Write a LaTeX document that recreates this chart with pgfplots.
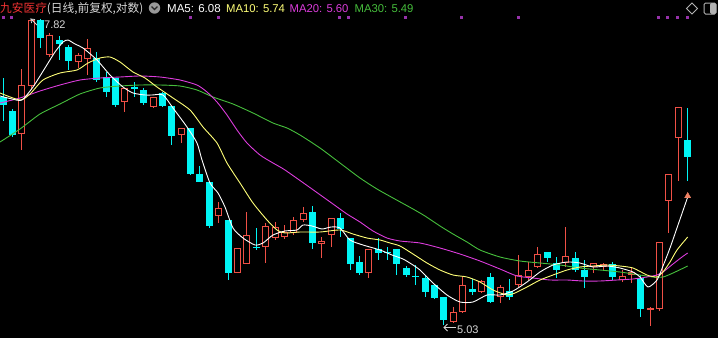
\documentclass[border=0pt]{standalone}
\usepackage{pgfplots}
\pgfplotsset{compat=1.18}
\usepackage{pgfplotstable}
\usepackage{fontspec}
\setmainfont{Liberation Sans}
\newfontfamily\cjk{Noto Sans CJK SC}
\definecolor{upred}{RGB}{240,80,70}
\definecolor{txtred}{RGB}{240,50,50}
\definecolor{dncyan}{RGB}{0,245,245}
\definecolor{mafive}{RGB}{255,255,255}
\definecolor{maten}{RGB}{255,255,120}
\definecolor{matwenty}{RGB}{220,60,220}
\definecolor{mathirty}{RGB}{70,190,60}
\definecolor{hdrgray}{RGB}{215,215,215}
\definecolor{dotpurple}{RGB}{150,50,170}
\definecolor{tri}{RGB}{240,130,100}

\pgfplotsset{
  candle/.style n args={2}{color=#2, only marks, mark size=0pt, mark options={draw=none, fill=none}, forget plot,
    error bars/.cd, y dir=plus, y explicit, error mark=none,
    error bar style={line width=#1, draw=#2}},
}

% pixel coordinates: i = candle index, top/bot = body, hi/lo = wick (screen y, down is larger)
\pgfplotstableread{
i top bot hi lo
2 85 134 69 150
3 20 86 19 90
5 35 55 33 57
8 55 62 53 68
9 48 59 39 75
13 88 102 88 112
16 97 107 97 108
19 128 135 128 143
23 208 216 202 223
25 248 273 248 273
26 235 264 212 264
28 226 247 223 263
29 227 238 222 240
30 232 237 225 239
31 220 233 217 235
32 213 220 207 222
34 241 244 237 258
35 218 235 218 247
39 249 273 249 278
48 312 322 307 323
49 285 312 277 313
51 281 292 280 293
53 287 297 285 303
55 275 285 255 287
56 270 277 262 280
57 254 267 247 268
60 256 263 227 267
63 263 267 263 273
64 264 267 263 270
66 276 280 270 282
67 272 275 268 283
69 308 310 307 326
70 242 309 242 311
71 174 201 174 233
72 107 138 107 181
}\redtab

\pgfplotstableread{
i top bot hi lo
0 97 105 78 121
1 111 135 109 137
4 20 38 19 48
6 40 44 36 60
7 47 61 45 70
10 58 80 52 82
11 77 92 72 97
12 78 105 78 107
14 87 89 82 97
15 90 103 88 105
17 93 106 92 107
18 106 136 106 145
20 128 174 128 175
21 174 182 166 182
22 182 226 182 228
24 220 273 220 280
27 247 248 228 250
33 212 243 206 249
36 218 229 213 237
37 238 264 238 270
38 262 273 256 275
40 249 253 238 260
41 252 253 247 260
42 249 264 249 275
43 268 275 266 277
44 276 277 265 285
45 278 292 275 297
46 285 298 284 299
47 297 320 297 325
50 289 292 279 295
52 277 302 273 303
54 291 297 279 300
58 252 258 252 262
59 263 270 257 278
61 258 270 252 272
62 270 277 260 288
65 264 277 262 280
68 278 309 275 317
73 140 157 108 181
}\cyantab

\begin{document}
\begin{tikzpicture}
\begin{axis}[
  scale only axis, width=718pt, height=338pt,
  xmin=0, xmax=718, ymin=0, ymax=338, y dir=reverse,
  axis lines=none, ticks=none,
  clip mode=individual,
]
\fill[black] (rel axis cs:0,0) rectangle (rel axis cs:1,1);

% red wicks
\addplot[candle={1pt}{upred}]
  table[x expr=3+9.38*\thisrow{i}, y=hi, y error plus expr={\thisrow{lo}-\thisrow{hi}}] {\redtab};
% red bodies (outline + black interior)
\addplot[candle={7pt}{upred}]
  table[x expr=3+9.38*\thisrow{i}, y=top, y error plus expr={\thisrow{bot}-\thisrow{top}}] {\redtab};
\addplot[candle={5pt}{black}]
  table[x expr=3+9.38*\thisrow{i}, y expr={\thisrow{top}+1}, y error plus expr={max(\thisrow{bot}-\thisrow{top}-2,0)}] {\redtab};
% cyan wicks
\addplot[candle={1pt}{dncyan}]
  table[x expr=3+9.38*\thisrow{i}, y=hi, y error plus expr={\thisrow{lo}-\thisrow{hi}}] {\cyantab};
% cyan bodies
\addplot[candle={7pt}{dncyan}]
  table[x expr=3+9.38*\thisrow{i}, y=top, y error plus expr={max(\thisrow{bot}-\thisrow{top},1)}] {\cyantab};

% MA30
\addplot[mathirty, line width=0.9pt, smooth, tension=0.4] coordinates {
(0,142) (20,129) (40,114) (60,104) (80,94) (100,88) (120,86) (140,85) (160,85) (180,86) (197,90) (213,97) (233,104) (253,113) (273,123) (287,128) (300,135) (320,148) (340,163) (360,178) (377,189) (393,198) (413,209) (425,216) (440,226) (453,234) (467,242) (480,250) (500,257) (520,261) (540,263) (560,265) (580,268) (600,270) (620,272) (640,275) (653,277) (663,277) (673,273) (687.7,266)};
% MA20
\addplot[matwenty, line width=0.9pt, smooth, tension=0.4] coordinates {
(0,103) (20,98) (40,91) (60,85) (80,80) (100,78) (120,77) (140,76) (160,77) (180,80) (197,85) (207,92) (217,102) (227,115) (237,130) (247,143) (260,155) (273,163) (285,170) (312,189) (333,204) (347,214) (360,222) (373,231) (387,238) (400,241) (420,243) (440,248) (460,254) (480,261) (500,269) (517,276) (533,278) (550,280) (567,280) (583,281) (600,281) (617,280) (633,279) (647,277) (657,275) (663,272) (673,264) (682,257) (687.7,253)};
% MA10
\addplot[maten, line width=0.9pt, smooth, tension=0.4] coordinates {
(0,93) (20,100) (30,94) (43,80) (60,73) (77,70) (88,63) (100,58) (110,57) (120,62) (133,72) (145,78) (157,87) (173,98) (190,110) (203,127) (217,143) (227,163) (240,183) (253,203) (267,220) (277,230) (285,233) (300,232) (320,232) (340,230) (353,234) (367,238) (380,240) (390,243) (400,246) (413,254) (427,263) (440,270) (453,275) (467,277) (480,282) (493,290) (507,295) (515,293) (527,287) (540,280) (553,275) (567,270) (580,267) (593,266) (607,265) (620,266) (633,268) (647,275) (657,277) (663,272) (670,262) (677,250) (687.7,237)};
% MA5
\addplot[mafive, line width=0.9pt, smooth, tension=0.4] coordinates {
(0,96) (12,99) (22,100) (33,87) (45,68) (55,52) (63,42) (68,40) (75,44) (83,48) (97,60) (110,75) (123,87) (133,93) (145,95) (152,95) (163,95) (173,108) (187,127) (197,143) (202,160) (210,183) (218,193) (225,207) (233,228) (243,238) (255,245) (263,243) (273,235) (285,231) (297,230) (303,225) (312,226) (322,229) (331,227) (340,228) (350,240) (363,245) (380,250) (392,255) (403,259) (413,265) (420,270) (433,283) (447,295) (460,302) (473,302) (487,295) (500,295) (513,291) (527,282) (540,272) (553,265) (567,262) (580,263) (593,267) (607,266) (620,268) (633,272) (640,277) (648,287) (657,280) (663,266) (670,248) (678,225) (687.7,197)};
% MA5 end marker
\addplot[tri, only marks, mark=triangle*, mark size=3.5pt] coordinates {(687.7,196)};
% info dots
\addplot[dotpurple, only marks, mark=square*, mark size=0.9pt] coordinates {
(3,17) (11,17) (190,17) (218,17) (339,17) (348,17) (405,17) (461,17) (518,17) (658,17) (667,17) (677,17) (687,17)};

% header
\node[anchor=base west, inner sep=0, font=\cjk\fontsize{11.7}{13}\selectfont] at (axis cs:0,12.5) {\textcolor{txtred}{九安医疗}\textcolor{hdrgray}{(日线,前复权,对数)}};
\fill[gray!80] (axis cs:154.5,8) circle[radius=5.7pt];
\draw[black!85, line width=1.2pt] (axis cs:151.5,6.5) -- (axis cs:154.5,9.5) -- (axis cs:157.5,6.5);
\node[anchor=base west, inner sep=0, font=\fontsize{11.5}{13}\selectfont, text=mafive] at (axis cs:167,12.5) {MA5: 6.08};
\node[anchor=base west, inner sep=0, font=\fontsize{11.3}{13}\selectfont, text=maten] at (axis cs:226,12.5) {MA10: 5.74};
\node[anchor=base west, inner sep=0, font=\fontsize{11.3}{13}\selectfont, text=matwenty] at (axis cs:289.5,12.5) {MA20: 5.60};
\node[anchor=base west, inner sep=0, font=\fontsize{11.3}{13}\selectfont, text=mathirty] at (axis cs:354.5,12.5) {MA30: 5.49};
% top-right icons
\draw[gray!60, line width=1pt] (axis cs:692,3) -- (axis cs:697.5,8.5) -- (axis cs:692,14) -- (axis cs:686.5,8.5) -- cycle;
\fill[gray!60, rounded corners=1.5pt] (axis cs:710,3) rectangle (axis cs:716,14);
\draw[gray!60, line width=1pt, rounded corners=1.5pt] (axis cs:704,3) rectangle (axis cs:716,14);

% high / low labels
\draw[hdrgray, line width=0.8pt] (axis cs:37,25) -- (axis cs:31,19) -- (axis cs:35,19.5);
\draw[hdrgray, line width=0.8pt] (axis cs:31,19) -- (axis cs:31.5,23);
\node[anchor=base west, inner sep=0, font=\fontsize{11}{13}\selectfont, text=hdrgray] at (axis cs:44,28) {7.82};
\draw[hdrgray, line width=0.8pt] (axis cs:456,327.5) -- (axis cs:444,327.5);
\draw[hdrgray, line width=0.8pt] (axis cs:447.5,324) -- (axis cs:444,327.5) -- (axis cs:447.5,331);
\node[anchor=base west, inner sep=0, font=\fontsize{11}{13}\selectfont, text=hdrgray] at (axis cs:457,333) {5.03};
\end{axis}
\pgfresetboundingbox
\useasboundingbox (current axis.south west) rectangle (current axis.north east);
\end{tikzpicture}
\end{document}
